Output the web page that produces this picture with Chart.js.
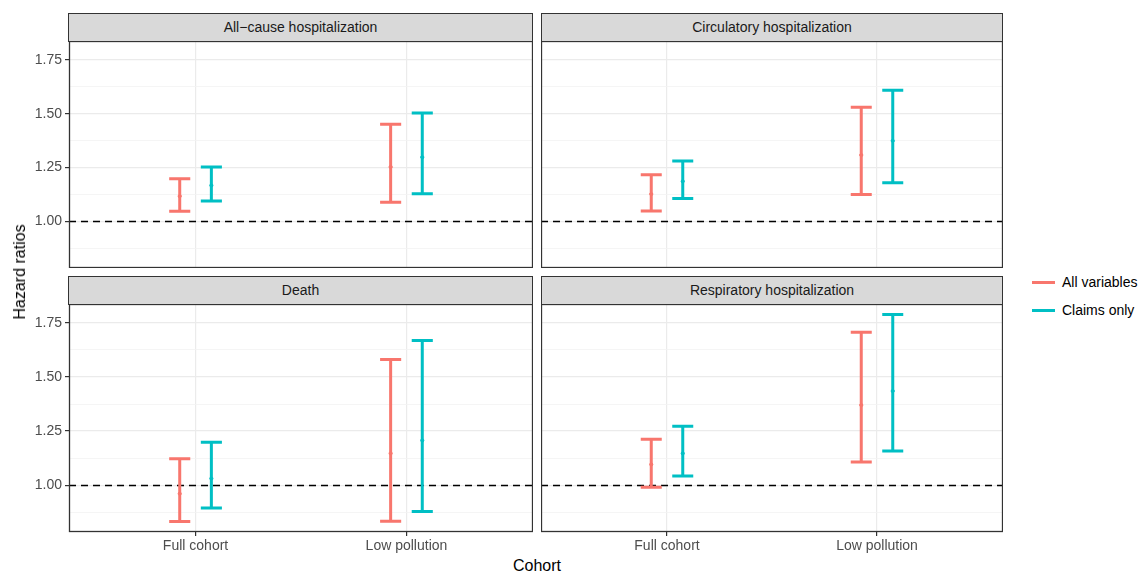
<!DOCTYPE html>
<html>
<head>
<meta charset="utf-8">
<script src="https://cdn.jsdelivr.net/npm/chart.js@4.4.1/dist/chart.umd.min.js"></script>
<style>
  body { margin: 0; background: #fff; font-family: "Liberation Sans", Arial, sans-serif; }
  #wrap { position: relative; width: 1143px; height: 577px; overflow: hidden; }
  #wrap canvas { position: absolute; }
  .strip {
    position: absolute; box-sizing: border-box; height: 29px;
    background: #d9d9d9; border: 1.3px solid #333; color: #1a1a1a;
    font-size: 14px; line-height: 27px; text-align: center;
  }
  .title { position: absolute; color: #000; font-size: 16px; white-space: nowrap; }
  .key { position: absolute; left: 1032px; font-size: 14px; color: #000; white-space: nowrap; }
  .key i { display: inline-block; width: 23px; height: 3px; vertical-align: middle; margin-right: 7px; position: relative; top: -1px; }
</style>
</head>
<body>
<div id="wrap"></div>
<script>
const facetTitles = ["All\u2212cause hospitalization", "Circulatory hospitalization", "Death", "Respiratory hospitalization"];
const cohortLabels = ["Full cohort", "Low pollution"];
const seriesLabels = ["All variables", "Claims only"];
const seriesColors = ["#F8766D", "#00BFC4"];

// each row = one facet, columns = [Full cohort, Low pollution]
const allVarsHR    = [[1.117, 1.253], [1.127, 1.308], [0.961, 1.147], [1.096, 1.370]];
const allVarsLower = [[1.047, 1.089], [1.048, 1.125], [0.832, 0.834], [0.991, 1.107]];
const allVarsUpper = [[1.198, 1.451], [1.216, 1.530], [1.122, 1.581], [1.212, 1.706]];
const claimsHR     = [[1.167, 1.298], [1.186, 1.374], [1.031, 1.207], [1.147, 1.435]];
const claimsLower  = [[1.095, 1.128], [1.106, 1.180], [0.895, 0.879], [1.043, 1.158]];
const claimsUpper  = [[1.253, 1.503], [1.280, 1.609], [1.199, 1.669], [1.272, 1.789]];

const yTickValues = [1.00, 1.25, 1.50, 1.75];
const yMinorValues = [0.875, 1.125, 1.375, 1.625];

const Y_MIN = 0.784, Y_MAX = 1.837;
const DODGE = 0.075, CAP = 0.1;

const panels = [
  { facet: 0, left: 0,   top: 41,  w: 533, h: 227, yAxis: true,  xAxis: false, stripLeft: 68,  stripTop: 13 },
  { facet: 1, left: 541, top: 41,  w: 462, h: 227, yAxis: false, xAxis: false, stripLeft: 541, stripTop: 13 },
  { facet: 2, left: 0,   top: 304, w: 533, h: 251, yAxis: true,  xAxis: true,  stripLeft: 68,  stripTop: 276 },
  { facet: 3, left: 541, top: 304, w: 462, h: 251, yAxis: false, xAxis: true,  stripLeft: 541, stripTop: 276 },
];

const wrap = document.getElementById("wrap");

const errorBars = {
  id: "errorBars",
  beforeDatasetsDraw(chart) {
    const { ctx, chartArea: a, scales: { x, y } } = chart;
    ctx.save();
    // reference line at HR = 1
    const y1 = Math.round(y.getPixelForValue(1)) + 0.5;
    ctx.beginPath();
    ctx.setLineDash([7, 5]);
    ctx.strokeStyle = "#000";
    ctx.lineWidth = 1.3;
    ctx.moveTo(a.left, y1);
    ctx.lineTo(a.right, y1);
    ctx.stroke();
    ctx.setLineDash([]);
    chart.data.datasets.forEach(function (ds) {
      ds.data.forEach(function (p, i) {
        const px = x.getPixelForValue(p.x);
        const half = x.getPixelForValue(p.x + CAP / 2) - px;
        const top = y.getPixelForValue(ds.upper[i]);
        const bot = y.getPixelForValue(ds.lower[i]);
        ctx.strokeStyle = ds.borderColor;
        ctx.lineWidth = 3;
        ctx.beginPath();
        ctx.moveTo(px, top); ctx.lineTo(px, bot);
        ctx.moveTo(px - half, top); ctx.lineTo(px + half, top);
        ctx.moveTo(px - half, bot); ctx.lineTo(px + half, bot);
        ctx.stroke();
      });
    });
    ctx.restore();
  },
  afterDraw(chart) {
    const { ctx, chartArea: a } = chart;
    ctx.save();
    ctx.strokeStyle = "#333";
    ctx.lineWidth = 1.3;
    ctx.strokeRect(a.left + 0.5, a.top + 0.5, a.right - a.left - 1, a.bottom - a.top - 1);
    ctx.restore();
  }
};

function isMajor(v) {
  return yTickValues.some(function (t) { return Math.abs(t - v) < 1e-6; });
}

panels.forEach(function (p) {
  const strip = document.createElement("div");
  strip.className = "strip";
  strip.style.left = p.stripLeft + "px";
  strip.style.top = p.stripTop + "px";
  strip.style.width = (p.left + p.w - p.stripLeft) + "px";
  strip.textContent = facetTitles[p.facet];

  const canvas = document.createElement("canvas");
  canvas.width = p.w;
  canvas.height = p.h;
  canvas.style.left = p.left + "px";
  canvas.style.top = p.top + "px";
  wrap.appendChild(canvas);
  wrap.appendChild(strip);

  const f = p.facet;
  const makeSet = function (label, color, est, lower, upper, shift) {
    return {
      label: label,
      data: est[f].map(function (v, i) { return { x: i + 1 + shift, y: v }; }),
      lower: lower[f],
      upper: upper[f],
      borderColor: color,
      backgroundColor: color,
      pointRadius: 1.6,
      pointHoverRadius: 1.6,
      showLine: false,
    };
  };

  new Chart(canvas, {
    type: "scatter",
    data: {
      datasets: [
        makeSet(seriesLabels[0], seriesColors[0], allVarsHR, allVarsLower, allVarsUpper, -DODGE),
        makeSet(seriesLabels[1], seriesColors[1], claimsHR, claimsLower, claimsUpper, DODGE),
      ],
    },
    options: {
      responsive: false,
      animation: false,
      devicePixelRatio: 1,
      layout: { padding: 0, autoPadding: false },
      plugins: { legend: { display: false }, tooltip: { enabled: false } },
      scales: {
        x: {
          type: "linear",
          min: 0.4,
          max: 2.6,
          afterBuildTicks: function (s) { s.ticks = [{ value: 1 }, { value: 2 }]; },
          ticks: {
            display: p.xAxis,
            autoSkip: false,
            maxRotation: 0,
            color: "#4d4d4d",
            font: { size: 14, family: "'Liberation Sans', Arial, sans-serif" },
            padding: 2,
            callback: function (v) { return cohortLabels[Math.round(v) - 1]; },
          },
          grid: {
            color: "#ebebeb",
            lineWidth: 1.2,
            drawTicks: p.xAxis,
            tickLength: 4,
            tickColor: "#333",
            tickWidth: 1.2,
          },
          border: { display: false },
          afterFit: function (s) {
            s.height = p.xAxis ? p.h - 228 : 0;
            s.paddingLeft = 0; s.paddingRight = 0;
          },
        },
        y: {
          min: Y_MIN,
          max: Y_MAX,
          afterBuildTicks: function (s) {
            s.ticks = yMinorValues.concat(yTickValues).sort().map(function (v) { return { value: v }; });
          },
          ticks: {
            display: p.yAxis,
            autoSkip: false,
            color: "#4d4d4d",
            font: { size: 14, family: "'Liberation Sans', Arial, sans-serif" },
            padding: 3,
            callback: function (v) { return isMajor(v) ? v.toFixed(2) : ""; },
          },
          grid: {
            color: function (c) { return c.tick && isMajor(c.tick.value) ? "#ebebeb" : "#f2f2f2"; },
            lineWidth: function (c) { return c.tick && isMajor(c.tick.value) ? 1.2 : 0.8; },
            drawTicks: p.yAxis,
            tickLength: 4,
            tickColor: function (c) { return c.tick && isMajor(c.tick.value) ? "#333" : "rgba(0,0,0,0)"; },
            tickWidth: 1.2,
          },
          border: { display: false },
          afterFit: function (s) {
            s.width = p.yAxis ? 69 : 0;
            s.paddingTop = 0; s.paddingBottom = 0;
          },
        },
      },
    },
    plugins: [errorBars],
  });
});

// axis titles
const yTitle = document.createElement("div");
yTitle.className = "title";
yTitle.textContent = "Hazard ratios";
yTitle.style.left = "20px";
yTitle.style.top = "272px";
yTitle.style.transform = "translate(-50%, -50%) rotate(-90deg)";
wrap.appendChild(yTitle);

const xTitle = document.createElement("div");
xTitle.className = "title";
xTitle.textContent = "Cohort";
xTitle.style.left = "537px";
xTitle.style.top = "566px";
xTitle.style.transform = "translate(-50%, -50%)";
wrap.appendChild(xTitle);

// legend
seriesLabels.forEach(function (label, i) {
  const key = document.createElement("div");
  key.className = "key";
  key.style.top = (274 + i * 28) + "px";
  key.innerHTML = '<i style="background:' + seriesColors[i] + '"></i>' + label;
  wrap.appendChild(key);
});
</script>
</body>
</html>
